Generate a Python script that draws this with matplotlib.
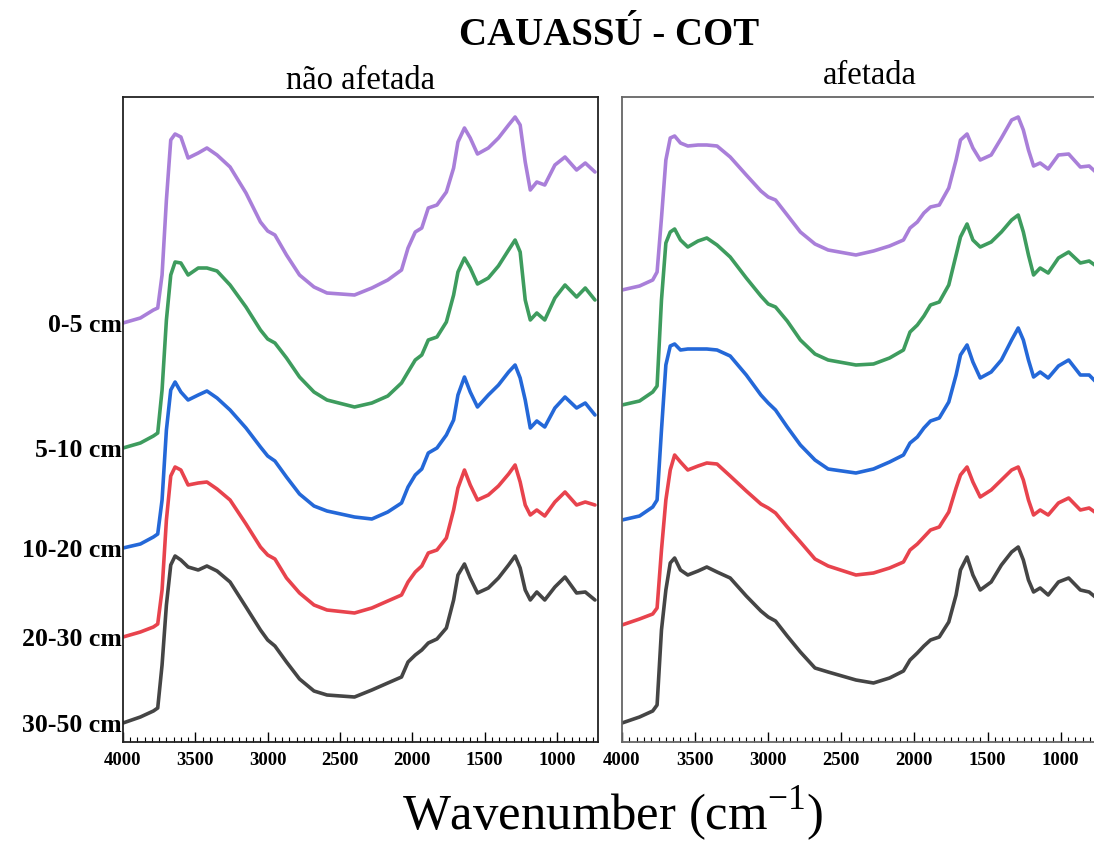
import matplotlib
matplotlib.use("Agg")
import matplotlib.pyplot as plt
from matplotlib.ticker import MultipleLocator
import numpy as np

plt.rcParams["font.family"] = ["Liberation Serif", "DejaVu Serif"]
plt.rcParams["mathtext.fontset"] = "custom"
plt.rcParams["mathtext.rm"] = "Liberation Serif"

# wavenumber grid (cm-1) the traces were read at
WAVENUMBER = [4000, 3880, 3790, 3760, 3730, 3700, 3670, 3640, 3600, 3550,
              3480, 3420, 3350, 3260, 3150, 3050, 3000, 2950, 2870, 2780,
              2680, 2590, 2400, 2280, 2170, 2075, 2030, 1980, 1935, 1890,
              1830, 1765, 1715, 1685, 1640, 1600, 1550, 1475, 1405, 1335,
              1290, 1255, 1220, 1185, 1140, 1085, 1015, 945, 865, 805, 738]

DEPTHS = ["0-5 cm", "5-10 cm", "10-20 cm", "20-30 cm", "30-50 cm"]
COLORS = ["#a97fd9", "#3e9c5e", "#2468d8", "#e8434d", "#454545"]

# stacked spectra, offset units (larger = lower on the plot)
NAO_05 = [323, 318, 310, 308, 275, 200, 140, 134, 137, 158, 153, 148, 155, 167, 193, 222, 231, 235, 255, 275,
          287, 293, 295, 288, 280, 270, 248, 232, 228, 208, 205, 192, 168, 142, 128, 138, 154, 148, 138, 125,
          117, 125, 162, 190, 182, 185, 165, 157, 170, 163, 172]
NAO_510 = [448, 443, 436, 433, 390, 320, 275, 262, 263, 275, 268, 268, 271, 285, 307, 330, 339, 343, 358, 377,
           392, 400, 407, 403, 396, 383, 372, 360, 355, 340, 337, 322, 295, 272, 258, 268, 284, 278, 266, 250,
           240, 252, 300, 320, 313, 320, 298, 285, 297, 288, 300]
NAO_1020 = [548, 544, 537, 534, 500, 430, 390, 382, 392, 400, 395, 391, 398, 410, 428, 447, 456, 461, 477, 494,
            506, 511, 517, 519, 512, 503, 487, 475, 469, 453, 448, 435, 420, 395, 377, 392, 407, 395, 385, 372,
            365, 378, 400, 428, 421, 427, 408, 397, 408, 403, 415]
NAO_2030 = [637, 632, 627, 624, 590, 520, 476, 467, 470, 485, 483, 482, 489, 500, 524, 547, 555, 559, 578, 593,
            605, 610, 613, 608, 601, 595, 582, 572, 566, 553, 550, 538, 510, 488, 470, 485, 500, 495, 486, 474,
            465, 482, 505, 515, 510, 516, 502, 492, 505, 502, 505]
NAO_3050 = [723, 717, 711, 708, 665, 605, 565, 556, 560, 567, 570, 566, 571, 582, 607, 630, 640, 646, 662, 679,
            691, 695, 697, 690, 683, 677, 662, 655, 650, 643, 639, 628, 600, 575, 564, 578, 593, 588, 578, 565,
            556, 568, 590, 600, 592, 600, 587, 577, 593, 592, 600]

AF_05 = [290, 286, 280, 272, 218, 160, 138, 136, 143, 146, 145, 145, 146, 157, 175, 191, 197, 200, 215, 232,
         244, 250, 255, 251, 246, 240, 228, 222, 213, 207, 205, 188, 160, 140, 134, 148, 160, 155, 138, 120,
         117, 130, 150, 166, 163, 169, 155, 154, 167, 166, 175]
AF_510 = [405, 401, 392, 386, 300, 243, 232, 229, 240, 247, 241, 238, 245, 257, 278, 296, 304, 307, 321, 340,
          354, 360, 365, 364, 358, 350, 332, 325, 316, 305, 302, 285, 255, 237, 224, 240, 247, 242, 232, 220,
          215, 232, 255, 275, 268, 273, 258, 252, 263, 261, 268]
AF_1020 = [520, 516, 507, 500, 430, 365, 346, 344, 350, 349, 349, 349, 350, 356, 375, 395, 403, 410, 427, 445,
           460, 469, 473, 469, 462, 455, 443, 437, 428, 421, 418, 402, 375, 355, 345, 362, 378, 372, 360, 340,
           328, 340, 360, 377, 372, 378, 366, 360, 375, 375, 385]
AF_2030 = [625, 619, 614, 608, 550, 500, 470, 455, 462, 470, 466, 463, 464, 476, 491, 504, 508, 513, 527, 542,
           559, 566, 575, 573, 568, 562, 550, 544, 537, 530, 527, 512, 488, 475, 467, 482, 497, 490, 480, 470,
           467, 480, 500, 515, 510, 515, 503, 498, 510, 508, 515]
AF_3050 = [723, 717, 711, 705, 630, 590, 563, 558, 570, 575, 571, 567, 572, 578, 596, 611, 617, 621, 636, 652,
           668, 672, 680, 683, 678, 671, 660, 653, 646, 640, 637, 622, 595, 570, 557, 575, 590, 582, 565, 552,
           547, 560, 580, 592, 588, 595, 582, 578, 590, 592, 600]

NAO_AFETADA = [NAO_05, NAO_510, NAO_1020, NAO_2030, NAO_3050]
AFETADA = [AF_05, AF_510, AF_1020, AF_2030, AF_3050]

TOP = 742.0   # readings grow downward; flip into offset absorbance


def to_abs(vals):
    return TOP - np.asarray(vals, dtype=float)


W, H = 1094, 843
fig = plt.figure(figsize=(W / 100, H / 100), dpi=100)
fig.patch.set_facecolor("white")

ax_l = fig.add_axes([123 / W, 101 / H, 475 / W, 645 / H])
ax_r = fig.add_axes([622 / W, 101 / H, 480 / W, 645 / H])

for ax, group in [(ax_l, NAO_AFETADA), (ax_r, AFETADA)]:
    for vals, color in zip(group, COLORS):
        ax.plot(WAVENUMBER, to_abs(vals), color=color, lw=2.6,
                solid_joinstyle="round", solid_capstyle="round")
    ax.set_xlim(4000, 717)
    ax.set_ylim(0, 645)
    ax.xaxis.set_major_locator(MultipleLocator(500))
    ax.xaxis.set_minor_locator(MultipleLocator(50))
    ax.tick_params(axis="x", which="major", direction="in", length=7, width=1.0,
                   top=False, labelsize=13.5, pad=7)
    ax.tick_params(axis="x", which="minor", direction="in", length=3.5, width=0.8, top=False)
    for lbl in ax.get_xticklabels():
        lbl.set_fontweight("bold")
    for sp in ax.spines.values():
        sp.set_linewidth(1.3)
        sp.set_color("#222222")

# depth labels at each trace's starting level
ax_l.set_yticks([to_abs(v)[0] for v in NAO_AFETADA])
ax_l.set_yticklabels(DEPTHS, fontsize=18.5, fontweight="bold")
ax_l.tick_params(axis="y", length=0, pad=1)
ax_r.set_yticks([])
for sp in ax_r.spines.values():
    sp.set_color("#666666")

fig.text(609 / W, 1 - 45 / H, "CAUASSÚ - COT", ha="center", va="baseline",
         fontsize=28, fontweight="bold")
fig.text(360 / W, 1 - 89 / H, "não afetada", ha="center", va="baseline", fontsize=23.5)
fig.text(870 / W, 1 - 84 / H, "afetada", ha="center", va="baseline", fontsize=23.5)
fig.text(613 / W, 1 - 830 / H, "Wavenumber (cm$^{-1}$)", ha="center", va="baseline",
         fontsize=36.5)

fig.savefig("out.png", dpi=100, facecolor="white")
